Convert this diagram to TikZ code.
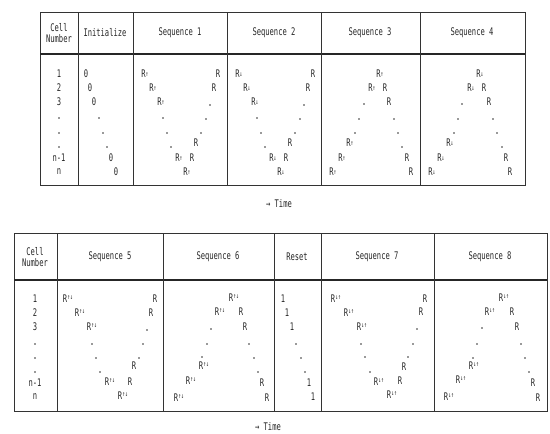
\documentclass[tikz,border=0pt]{standalone}
\usepackage{fontspec}
\setmainfont{DejaVu Sans Mono}[FakeStretch=0.68]
\newcommand{\myRu}{R\raisebox{.25ex}{\fontsize{7}{7}\selectfont ↑}}
\newcommand{\myRd}{R\raisebox{.25ex}{\fontsize{7}{7}\selectfont ↓}}
\newcommand{\myRud}{R\raisebox{.5ex}{\fontsize{7}{7}\selectfont ↑↓}}
\newcommand{\myRdu}{R\raisebox{.5ex}{\fontsize{7}{7}\selectfont ↓↑}}
\tikzset{
  tabline/.style={line width=0.8pt, draw=black!80},
  headline/.style={line width=1.4pt, draw=black!85},
  txt/.style={inner sep=0pt, font=\fontsize{10.5}{11.5}\selectfont, text=black!85, align=center},
  dotm/.style={fill=black!80}
}
\begin{document}
\begin{tikzpicture}[x=1pt,y=-1pt]
\useasboundingbox[fill=white] (0,0) rectangle (550,434);
% ---------- top table ----------
\draw[tabline] (40,12) rectangle (525,185);
\draw[headline] (40,54) -- (525,54);
\foreach \x in {78,133,227,321,420} \draw[tabline] (\x,12) -- (\x,185);
\foreach \x/\t [count=\k] in {59/{Cell\\Number},105/Initialize,180/Sequence 1,274/Sequence 2,370/Sequence 3,472/Sequence 4}
  \node[txt] (th\k) at (\x,33) {\t};
% cell numbers
\foreach \y/\t [count=\k] in {74/1,88/2,102/3,158/n-1,172/n}
  \node[txt] (tc\k) at (59,\y) {\t};
% initialize
\foreach \x/\y [count=\k] in {86/74,90/88,94/102,111/158,116/172}
  \node[txt] (ti\k) at (\x,\y) {0};
% sequence 1
\foreach \x/\y/\t [count=\k] in {145/74/\myRu,153/88/\myRu,161/102/\myRu,179/158/\myRu,187/172/\myRu,218/74/R,214/88/R,196/143/R,192/158/R}
  \node[txt] (sa\k) at (\x,\y) {\t};
% sequence 2
\foreach \x/\y/\t [count=\k] in {239/74/\myRd,247/88/\myRd,255/102/\myRd,273/158/\myRd,281/172/\myRd,313/74/R,308/88/R,290/143/R,286/158/R}
  \node[txt] (sb\k) at (\x,\y) {\t};
% sequence 3
\foreach \x/\y/\t [count=\k] in {380/74/\myRu,372/88/\myRu,350/143/\myRu,342/158/\myRu,333/172/\myRu,385/88/R,389/102/R,407/158/R,411/172/R}
  \node[txt] (sc\k) at (\x,\y) {\t};
% sequence 4
\foreach \x/\y/\t [count=\k] in {480/74/\myRd,471/88/\myRd,450/143/\myRd,441/158/\myRd,432/172/\myRd,484/88/R,489/102/R,506/158/R,510/172/R}
  \node[txt] (sd\k) at (\x,\y) {\t};
% dots top
\foreach \x/\y in {59/118,59/133,59/147, 99/118,103/133,107/147,
  163/118,167/133,171/147,210/105,206/119,201/133,
  257/118,261/133,265/147,304/105,300/119,295/133,
  364/104,359/119,355/133,394/119,398/133,402/147,
  462/104,458/119,454/133,493/119,497/133,502/147}
  \fill[dotm] (\x,\y) circle (0.8);
\node[txt] (time1) at (279,204) {→ Time};
% ---------- bottom table ----------
\draw[tabline] (14,233) rectangle (547,411);
\draw[headline] (14,280) -- (547,280);
\foreach \x in {57,163,274,321,434} \draw[tabline] (\x,233) -- (\x,411);
\foreach \x/\t [count=\k] in {35/{Cell\\Number},110/Sequence 5,218/Sequence 6,297/Reset,377/Sequence 7,490/Sequence 8}
  \node[txt] (bh\k) at (\x,257) {\t};
\foreach \y/\t [count=\k] in {299/1,313/2,327/3,383/n-1,397/n}
  \node[txt] (bc\k) at (35,\y) {\t};
% sequence 5
\foreach \x/\y/\t [count=\k] in {68/299/\myRud,80/313/\myRud,92/327/\myRud,110/382/\myRud,123/396/\myRud,155/299/R,151/313/R,134/366/R,130/382/R}
  \node[txt] (se\k) at (\x,\y) {\t};
% sequence 6
\foreach \x/\y/\t [count=\k] in {234/298/\myRud,220/312/\myRud,204/366/\myRud,191/381/\myRud,179/398/\myRud,241/312/R,245/327/R,262/383/R,267/398/R}
  \node[txt] (sf\k) at (\x,\y) {\t};
% reset
\foreach \x/\y [count=\k] in {283/299,287/313,292/327,309/383,313/397}
  \node[txt] (rs\k) at (\x,\y) {1};
% sequence 7
\foreach \x/\y/\t [count=\k] in {336/299/\myRdu,349/313/\myRdu,362/327/\myRdu,379/382/\myRdu,392/395/\myRdu,425/299/R,421/312/R,404/367/R,400/381/R}
  \node[txt] (sg\k) at (\x,\y) {\t};
% sequence 8
\foreach \x/\y/\t [count=\k] in {504/298/\myRdu,490/312/\myRdu,474/366/\myRdu,461/380/\myRdu,449/397/\myRdu,512/312/R,517/327/R,533/383/R,538/398/R}
  \node[txt] (sh\k) at (\x,\y) {\t};
% dots bottom
\foreach \x/\y in {35/344,35/358,35/372,
  92/344,96/358,100/372,147/330,143/344,139/358,
  211/329,207/344,202/357,249/344,254/358,258/372,
  296/344,301/358,305/372,
  361/344,365/357,370/372,417/329,413/344,408/357,
  482/328,477/344,473/358,521/344,525/358,529/372}
  \fill[dotm] (\x,\y) circle (0.8);
\node[txt] (time2) at (268,427) {→ Time};
\end{tikzpicture}
\end{document}
